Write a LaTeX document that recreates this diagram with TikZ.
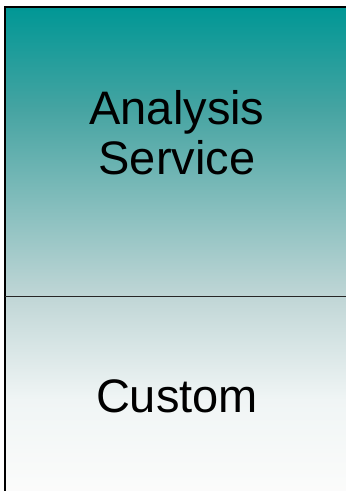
\documentclass[tikz,border=0pt]{standalone}
\usepackage{fontspec}
\setmainfont{Liberation Sans}
\definecolor{tealtop}{RGB}{0,151,149}
\definecolor{tealq}{RGB}{70,164,162}
\definecolor{tealmid}{RGB}{192,214,214}
\definecolor{palelow}{RGB}{240,245,245}
\definecolor{paleend}{RGB}{252,252,251}
\tikzset{
  label/.style={font=\fontsize{47}{50}\selectfont, align=center, text=black, inner sep=0pt},
  border/.style={line width=2pt, draw=black},
}
\begin{document}
\begin{tikzpicture}[x=1pt, y=-1pt]
\useasboundingbox (0,0) rectangle (346,491);
\clip (0,0) rectangle (346,491);
\fill[white] (0,0) rectangle (346,491);
\shade[top color=tealtop, bottom color=tealq] (4.5,6.5) rectangle (352,110);
\shade[top color=tealq, bottom color=tealmid] (4.5,109.5) rectangle (352,296.5);
\shade[top color=tealmid, bottom color=palelow] (4.5,296) rectangle (352,400);
\shade[top color=palelow, bottom color=paleend] (4.5,399.5) rectangle (352,498);
\coordinate (tl) at (4.5,6.5);
\coordinate (tr) at (352,6.5);
\coordinate (bl) at (4.5,498);
\coordinate (dl) at (4.5,296.5);
\coordinate (dr) at (352,296.5);
\draw[border] (bl) -- (tl) -- (tr);
\draw[line width=1.8pt, draw=black!85] (dl) -- (dr);
\node[label, anchor=base] (analysis) at (177,174) {Analysis\\Service};
\node[label, anchor=base] (custom) at (177,412) {Custom};
\end{tikzpicture}
\end{document}
